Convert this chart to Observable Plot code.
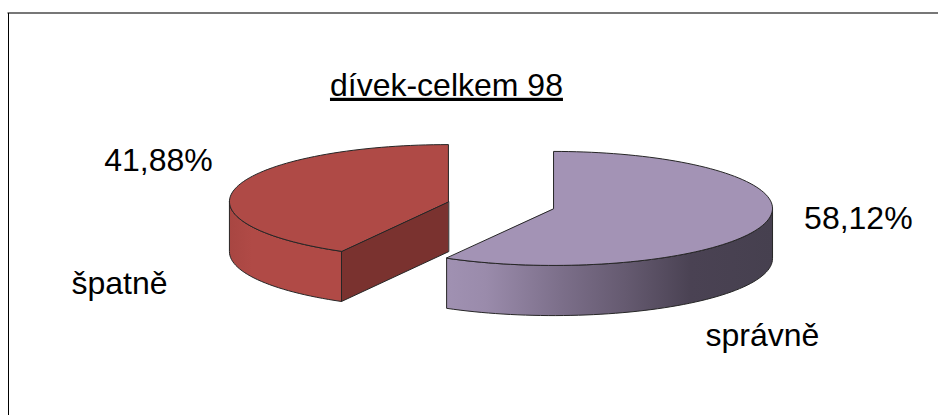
<!DOCTYPE html>
<html>
<head>
<meta charset="utf-8">
<script src="https://cdn.jsdelivr.net/npm/d3@7"></script>
<script src="https://cdn.jsdelivr.net/npm/@observablehq/plot@0.6"></script>
<style>
  html, body { margin: 0; padding: 0; background: #fff; overflow: hidden; }
  svg { display: block; }
  .pie-title text { text-decoration: underline; }
</style>
</head>
<body>
<div id="chart"></div>
<script>
// Share of answers among girls, drawn as an exploded pie with depth.
const chartTitle = "dívek-celkem 98";
const answers = ["špatně", "správně"];
const shares = [41.88, 58.12];
const shareLabels = ["41,88%", "58,12%"];

// Pie geometry, in units of the pie's own radius.
const depth = 0.88;
const explodeX = 0.24;
const explodeY = 0.06;
const rad = Math.PI / 180;

const sweep = (shares[0] / 100) * 360;

// Points of the rim between two angles, measured clockwise from twelve o'clock.
function rim(from, to, cx, cy, drop = 0) {
  const steps = Math.max(2, Math.ceil(Math.abs(to - from) / 2));
  return d3.range(steps + 1).map(i => {
    const t = (from + ((to - from) * i) / steps) * rad;
    return {x: cx + Math.sin(t), y: cy + Math.cos(t) - drop};
  });
}

const wrongC = {x: -explodeX, y: explodeY};
const rightC = {x: explodeX, y: -explodeY};

const wrongTop = [wrongC, ...rim(0, -sweep, wrongC.x, wrongC.y)];
const wrongEnd = rim(-sweep, -sweep, wrongC.x, wrongC.y)[0];
const wrongCut = [
  wrongC,
  wrongEnd,
  {x: wrongEnd.x, y: wrongEnd.y - depth},
  {x: wrongC.x, y: wrongC.y - depth}
];
const wrongSide = [
  ...rim(-90, -sweep, wrongC.x, wrongC.y),
  ...rim(-sweep, -90, wrongC.x, wrongC.y, depth)
];

const rightSweep = 360 - sweep;
const rightTop = [rightC, ...rim(0, rightSweep, rightC.x, rightC.y)];
const rightSide = [
  ...rim(90, rightSweep, rightC.x, rightC.y),
  ...rim(rightSweep, 90, rightC.x, rightC.y, depth)
];

const textRows = [
  {text: shareLabels[0], x: -1.564, y: 0.78},
  {text: shareLabels[1], x: 1.632, y: -0.237},
  {text: answers[0], x: -1.742, y: -1.377},
  {text: answers[1], x: 1.194, y: -2.289}
];
const titleRow = [{text: chartTitle, x: -0.249, y: 2.096}];

// Shading of the curved outer walls.
function gradients() {
  const svg = d3.create("svg:g");
  const defs = svg.append("defs");
  const add = (id, stops) => {
    const g = defs.append("linearGradient").attr("id", id);
    stops.forEach(([o, c]) => g.append("stop").attr("offset", o).attr("stop-color", c));
  };
  add("wall-right", [[0, "#a091b2"], [0.12, "#9a8bab"], [0.35, "#7c6f8a"], [0.55, "#655a70"], [0.75, "#4a4253"], [1, "#46404f"]]);
  add("wall-wrong", [[0, "#a84642"], [0.2, "#b04a46"], [1, "#b04a46"]]);
  return svg.node();
}

const edge = "#262626";
const face = (data, fill) =>
  Plot.line(data, {x: "x", y: "y", fill, stroke: edge, strokeWidth: 1, curve: "linear-closed"});

const chart = Plot.plot({
  width: 938,
  height: 415,
  marginTop: 13,
  marginLeft: 8,
  marginRight: 0,
  marginBottom: 0,
  x: {domain: [-2.249, 1.998], axis: null},
  y: {domain: [-3.693, 3.36], axis: null},
  marks: [
    gradients,
    Plot.frame({anchor: "top", stroke: "#777", strokeWidth: 2, dy: -0.5}),
    Plot.frame({anchor: "left", stroke: "#000", strokeWidth: 1}),
    face(wrongCut, "#7a322f"),
    face(wrongSide, "url(#wall-wrong)"),
    face(wrongTop, "#af4a46"),
    face(rightSide, "url(#wall-right)"),
    face(rightTop, "#a393b5"),
    Plot.text(textRows, {
      x: "x", y: "y", text: "text",
      fontFamily: "Liberation Sans", fontSize: 32, fill: "#000"
    }),
    Plot.text(titleRow, {
      x: "x", y: "y", text: "text", className: "pie-title",
      fontFamily: "Liberation Sans", fontSize: 32, fill: "#000"
    })
  ]
});

document.getElementById("chart").append(chart);
</script>
</body>
</html>
